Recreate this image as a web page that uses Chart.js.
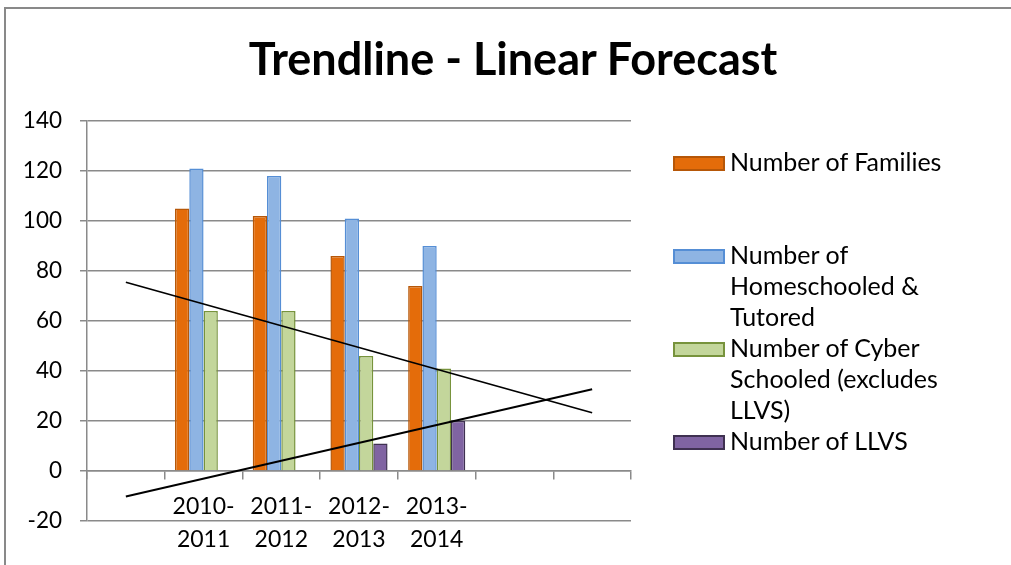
<!DOCTYPE html>
<html lang="en">
<head>
<meta charset="utf-8">
<script src="https://cdn.jsdelivr.net/npm/chart.js@4.4.1/dist/chart.umd.min.js"></script>
<style>
    html, body { margin: 0; padding: 0; background: #fff; overflow: hidden; }
    body { font-family: Lato, "Open Sans", sans-serif; color: #000; }
    #wrap { position: absolute; left: 0; top: 0; width: 1011px; height: 565px; }
    .title { position: absolute; left: 0; width: 1011px; padding-left: 15px; box-sizing: border-box; top: 31px; text-align: center; font-weight: bold; font-size: 45px; line-height: 1.2; }
    .legend_item { position: absolute; left: 673px; }
    .swatch { position: absolute; left: 0; top: 10px; width: 52px; height: 15px; box-sizing: border-box; border: 2px solid; }
    .legend_text { position: absolute; left: 57px; top: 0; font-size: 25px; line-height: 31px; white-space: nowrap; }
</style>
</head>
<body>
<div id="wrap"><canvas id="chart" width="1011" height="565"></canvas></div>
<div class="title">Trendline - Linear Forecast</div>
<div id="legend"></div>

<script>
// categories (first and last two slots are the forecast periods)
var categories = ['', '2010-2011', '2011-2012', '2012-2013', '2013-2014', '', ''];

var families     = [null, 105, 102, 86, 74, null, null];
var homeschooled = [null, 121, 118, 101, 90, null, null];
var cyber        = [null, 64, 64, 46, 41, null, null];
var llvs         = [null, 0, 0, 11, 20, null, null];

// trendline end points
var cyberTrend = [75.5, null, null, null, null, null, 23.3];
var llvsTrend  = [-10.2, null, null, null, null, null, 32.7];

var yTicks = [-20, 0, 20, 40, 60, 80, 100, 120, 140];

var seriesNames = ['Number of Families', 'Number of Homeschooled & Tutored', 'Number of Cyber Schooled (excludes LLVS)', 'Number of LLVS'];
var legendLines = [['Number of Families'], ['Number of', 'Homeschooled &', 'Tutored'], ['Number of Cyber', 'Schooled (excludes', 'LLVS)'], ['Number of LLVS']];
var fills   = ['#E46C0A', '#8EB4E3', '#C3D69B', '#8064A2'];
var borders = ['#B65708', '#558ED5', '#77933C', '#3F3151'];

var labels = categories.map(function (c) {
    return c.indexOf('-') > 0 ? [c.slice(0, 5), c.slice(5)] : c;
});

var barData = [families, homeschooled, cyber, llvs];
var datasets = [];

function trend(data) {
    return { type: 'line', data: data, spanGaps: true, borderColor: '#000', borderWidth: 1.8,
             pointRadius: 0, fill: false, order: 0 };
}
datasets.push(trend(cyberTrend));
datasets.push(trend(llvsTrend));

barData.forEach(function (d, i) {
    datasets.push({
        type: 'bar', label: seriesNames[i], data: d,
        backgroundColor: fills[i], borderColor: borders[i], borderWidth: 1.5,
        barPercentage: 1, categoryPercentage: 0.735, order: 1
    });
});

var gridColor = '#8a8a8a';

// outer chart frame (only top and left edges show in the picture)
var framePlugin = {
    id: 'frame',
    beforeDraw: function (c) {
        var ctx = c.ctx;
        ctx.save();
        ctx.fillStyle = '#fff';
        ctx.fillRect(0, 0, c.width, c.height);
        ctx.strokeStyle = '#898989';
        ctx.lineWidth = 2;
        ctx.beginPath();
        ctx.moveTo(5, c.height);
        ctx.lineTo(5, 8);
        ctx.lineTo(c.width, 8);
        ctx.stroke();
        ctx.restore();
    }
};

var chart = new Chart(document.getElementById('chart').getContext('2d'), {
    data: { labels: labels, datasets: datasets },
    plugins: [framePlugin],
    options: {
        responsive: false,
        maintainAspectRatio: false,
        animation: false,
        devicePixelRatio: 1,
        layout: { padding: { left: 0, top: 121, right: 380, bottom: 44 } },
        plugins: { legend: { display: false }, tooltip: { enabled: false }, title: { display: false } },
        scales: {
            x: {
                type: 'category',
                position: { y: 0 },
                offset: true,
                afterFit: function (s) { s.height = 0; },
                grid: { drawOnChartArea: false, drawTicks: true, tickLength: 8, color: gridColor, lineWidth: 1.5, offset: true },
                border: { display: true, color: gridColor, width: 1.5 },
                ticks: { font: { family: 'Lato', size: 23, lineHeight: 1.43 }, color: '#000', padding: 11,
                         autoSkip: false, maxRotation: 0, minRotation: 0 }
            },
            y: {
                position: 'left',
                min: -20, max: 140,
                afterFit: function (s) { s.width = 87; },
                afterBuildTicks: function (s) { s.ticks = yTicks.map(function (v) { return { value: v }; }); },
                grid: { color: gridColor, lineWidth: 1.5, tickLength: 7 },
                border: { display: true, color: gridColor, width: 1.5 },
                ticks: { font: { family: 'Lato', size: 22.5 }, color: '#000', padding: 18 }
            }
        }
    }
});

// legend, laid out like the spreadsheet one (each entry gets three lines)
var legend = document.getElementById('legend');
legendLines.forEach(function (lines, i) {
    var item = document.createElement('div');
    item.className = 'legend_item';
    item.style.top = (145.5 + 93.3 * i) + 'px';
    var sw = document.createElement('div');
    sw.className = 'swatch';
    sw.style.background = fills[i];
    sw.style.borderColor = borders[i];
    var txt = document.createElement('div');
    txt.className = 'legend_text';
    txt.innerHTML = lines.map(function (l) { return l.replace('&', '&amp;'); }).join('<br>');
    item.appendChild(sw);
    item.appendChild(txt);
    legend.appendChild(item);
});
</script>
</body>
</html>
